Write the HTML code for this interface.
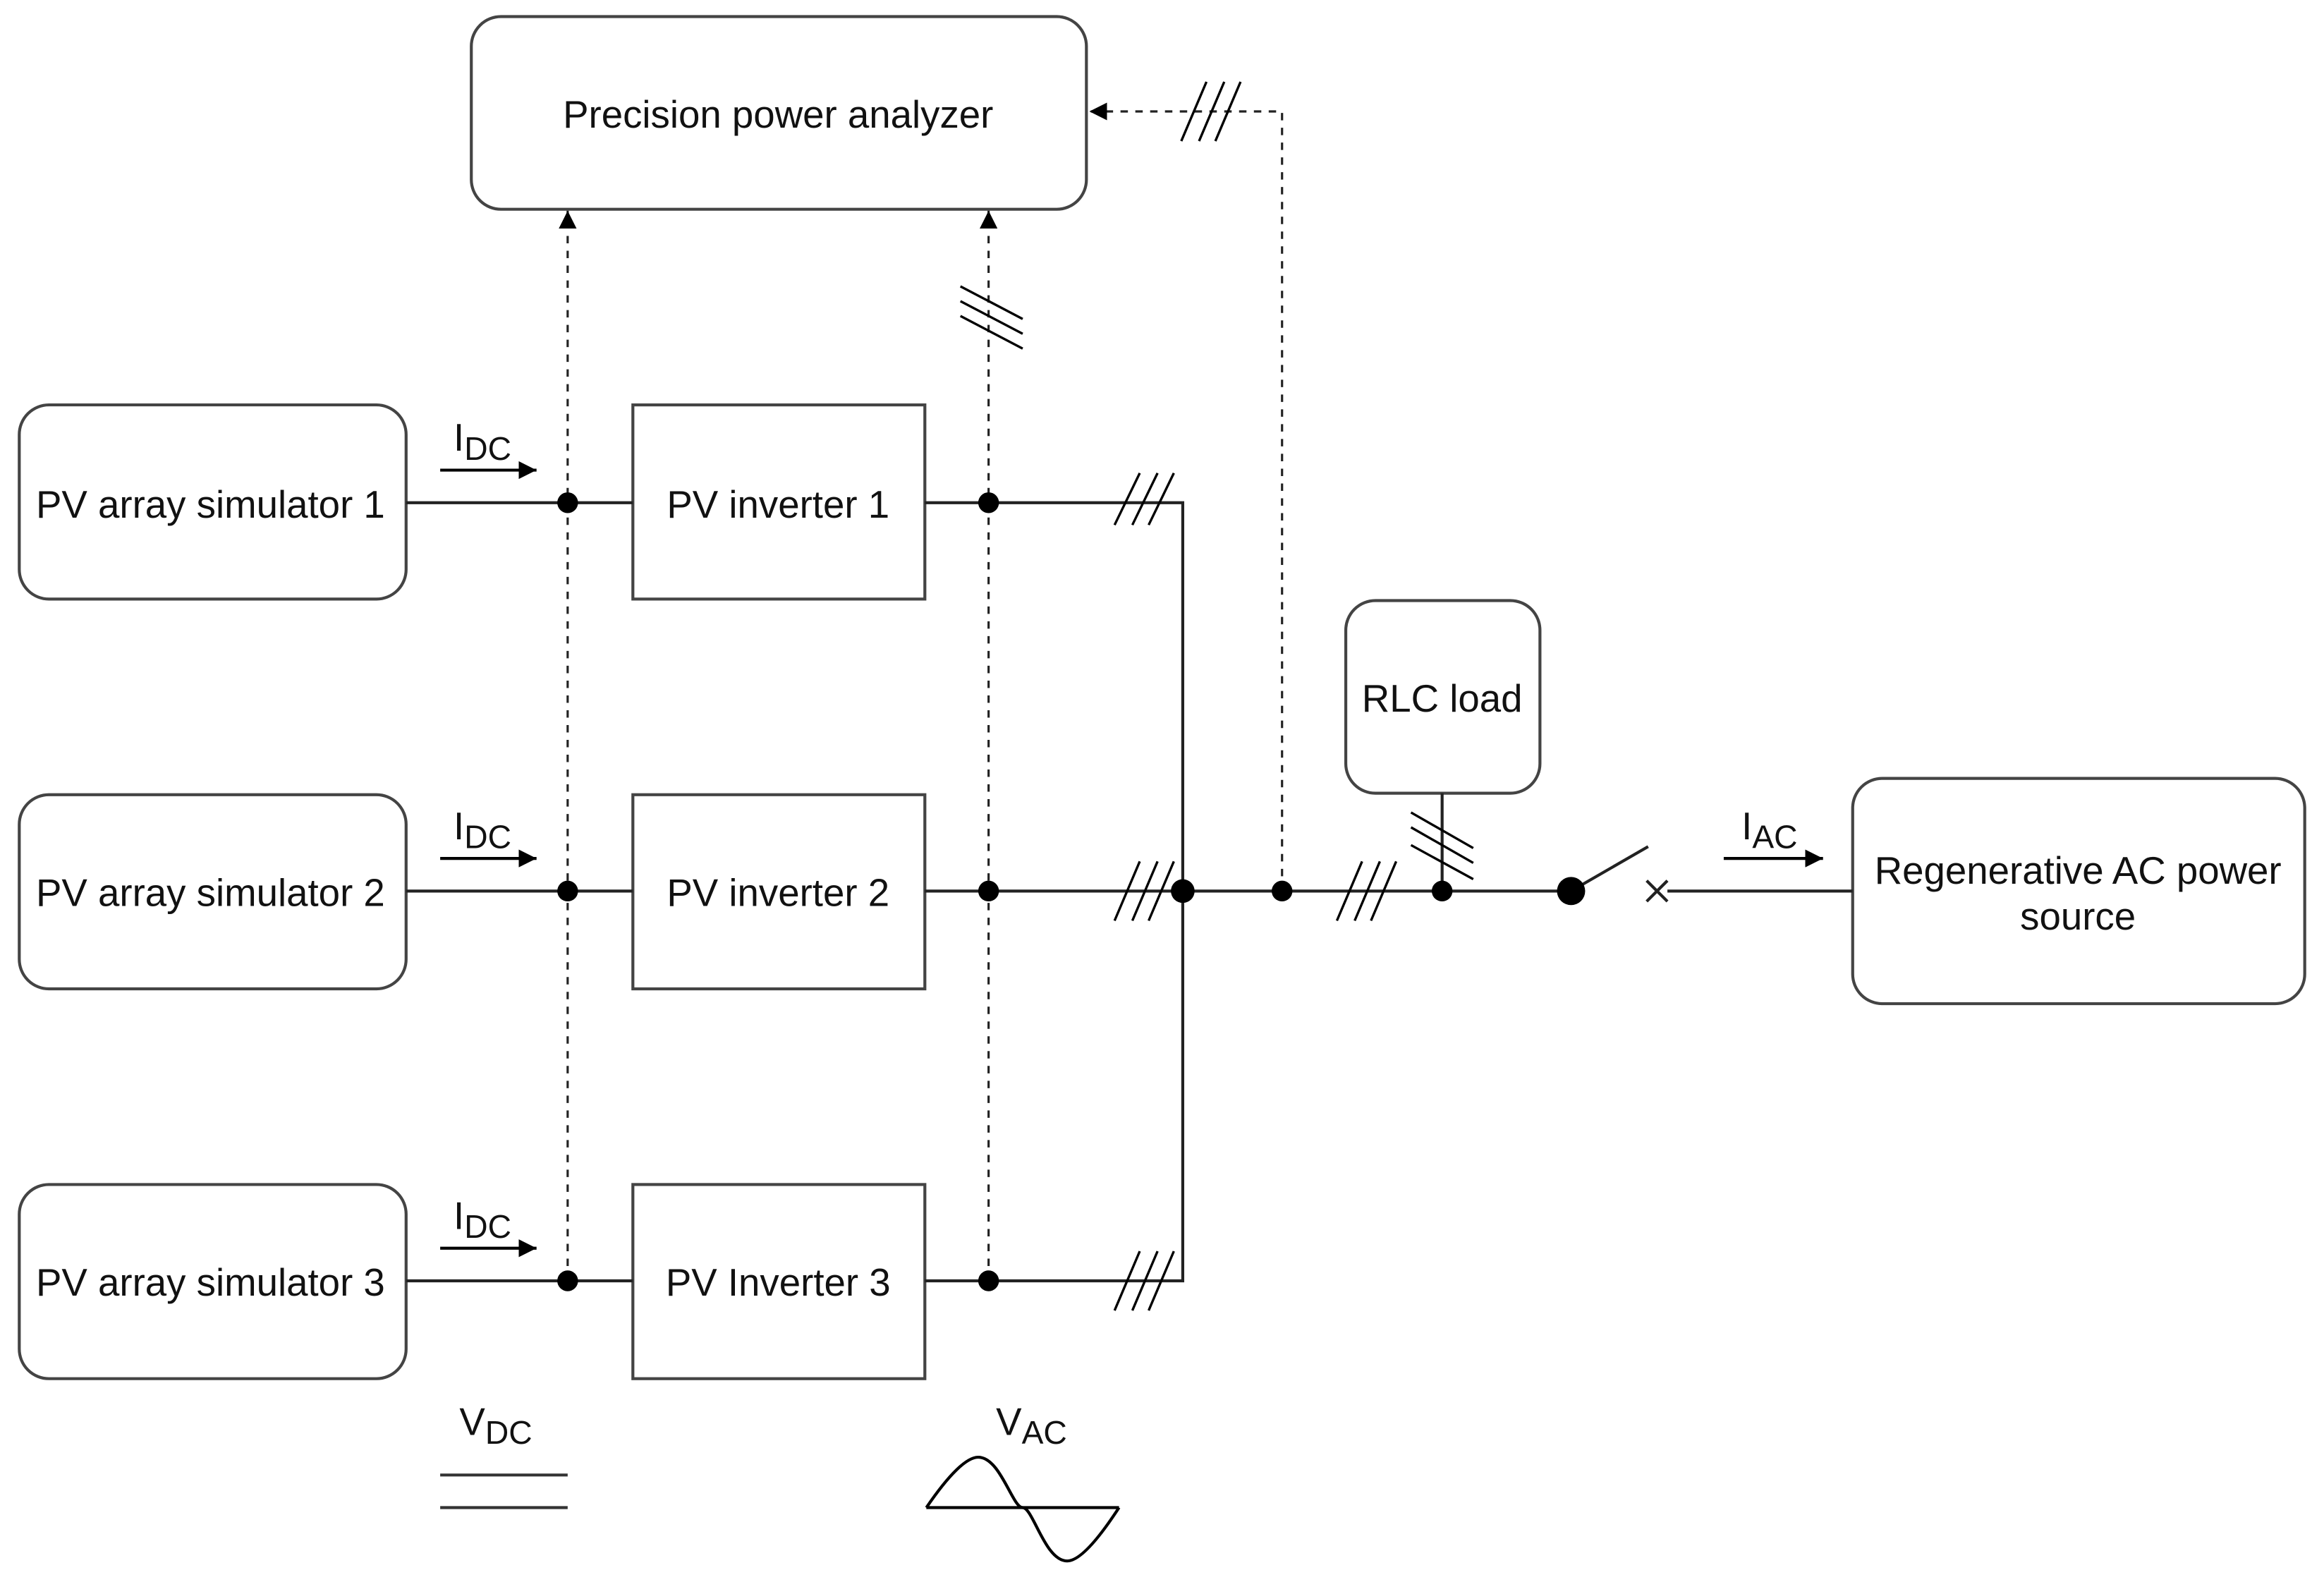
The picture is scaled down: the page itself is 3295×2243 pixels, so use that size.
<!DOCTYPE html>
<html><head><meta charset="utf-8"><style>html,body{margin:0;padding:0;background:#fff}svg{display:block}</style></head>
<body>
<svg width="3295" height="2243" viewBox="0 0 1568 1067" xmlns="http://www.w3.org/2000/svg" font-family="Liberation Sans, sans-serif" fill="none">
<defs>
<marker id="ah" viewBox="0 0 10 10" refX="10" refY="5" markerWidth="12" markerHeight="12" markerUnits="userSpaceOnUse" orient="auto"><path d="M0,0 L10,5 L0,10 z" fill="#000"/></marker>
</defs>
<g stroke="#444" stroke-width="2">
<rect x="318" y="11" width="415" height="130" rx="20"/>
<rect x="13" y="273" width="261" height="131" rx="20"/>
<rect x="13" y="536" width="261" height="131" rx="20"/>
<rect x="13" y="799" width="261" height="131" rx="20"/>
<rect x="427" y="273" width="197" height="131"/>
<rect x="427" y="536" width="197" height="131"/>
<rect x="427" y="799" width="197" height="131"/>
<rect x="908" y="405" width="131" height="130" rx="20"/>
<rect x="1250" y="525" width="305" height="152" rx="20"/>
</g>
<g stroke="#222" stroke-width="2">
<path d="M274 339H427M274 601H427M274 864H427"/>
<path d="M624 339H798V864H624M624 601H1060"/>
<path d="M973 535V601"/>
<path d="M1060 601L1112 571"/>
<path d="M1125 601H1250"/>
<path d="M1111 594L1125 608M1125 594L1111 608"/>
</g>
<g stroke="#222" stroke-width="1.5" stroke-dasharray="5,5">
<path d="M383 864V142" marker-end="url(#ah)"/>
<path d="M667 864V142" marker-end="url(#ah)"/>
<path d="M865 601V75H735" marker-end="url(#ah)"/>
</g>
<g fill="#000">
<circle cx="383" cy="339" r="7"/><circle cx="383" cy="601" r="7"/><circle cx="383" cy="864" r="7"/>
<circle cx="667" cy="339" r="7"/><circle cx="667" cy="601" r="7"/><circle cx="667" cy="864" r="7"/>
<circle cx="798" cy="601" r="8"/><circle cx="865" cy="601" r="7"/><circle cx="973" cy="601" r="7"/>
<ellipse cx="1060" cy="601" rx="9.5" ry="9.5"/>
</g>
<g stroke="#000" stroke-width="1.6">
<path d="M752 354L769 319M764 354L781 319M775 354L792 319"/>
<path d="M752 621L769 581M764 621L781 581M775 621L792 581"/>
<path d="M752 884L769 844M764 884L781 844M775 884L792 844"/>
<path d="M902 621L919 581M914 621L931 581M925 621L942 581"/>
<path d="M797 95L814 55M809 95L826 55M820 95L837 55"/>
<path d="M648 193L690 215M648 203L690 225M648 213L690 235"/>
<path d="M952 548L994 572M952 558L994 582M952 570L994 593"/>
</g>
<g stroke="#000" stroke-width="2">
<path d="M297 317H362" marker-end="url(#ah)"/>
<path d="M297 579H362" marker-end="url(#ah)"/>
<path d="M297 842H362" marker-end="url(#ah)"/>
<path d="M1163 579H1230" marker-end="url(#ah)"/>
<path d="M297 995H383M297 1017H383" stroke="#333"/>
<path d="M625 1017H755"/>
<path d="M625 1017C640 995 652 983 660 983C675 983 683 1017 690 1017C697 1017 705 1053 720 1053C728 1053 740 1040 755 1017"/>
</g>
<g fill="#111" font-size="26" text-anchor="middle">
<text x="525" y="86">Precision power analyzer</text>
<text x="142" y="349">PV array simulator 1</text>
<text x="142" y="611">PV array simulator 2</text>
<text x="142" y="874">PV array simulator 3</text>
<text x="525" y="349">PV inverter 1</text>
<text x="525" y="611">PV inverter 2</text>
<text x="525" y="874">PV Inverter 3</text>
<text x="973" y="480">RLC load</text>
<text x="1402" y="596">Regenerative AC power</text>
<text x="1402" y="627">source</text>
</g>
<g fill="#111" font-size="26">
<text x="306" y="304">I<tspan font-size="22" dy="6">DC</tspan></text>
<text x="306" y="566">I<tspan font-size="22" dy="6">DC</tspan></text>
<text x="306" y="829">I<tspan font-size="22" dy="6">DC</tspan></text>
<text x="1175" y="566">I<tspan font-size="22" dy="6">AC</tspan></text>
<text x="310" y="968">V<tspan font-size="22" dy="6">DC</tspan></text>
<text x="672" y="968">V<tspan font-size="22" dy="6">AC</tspan></text>
</g>
</svg>
</body></html>
